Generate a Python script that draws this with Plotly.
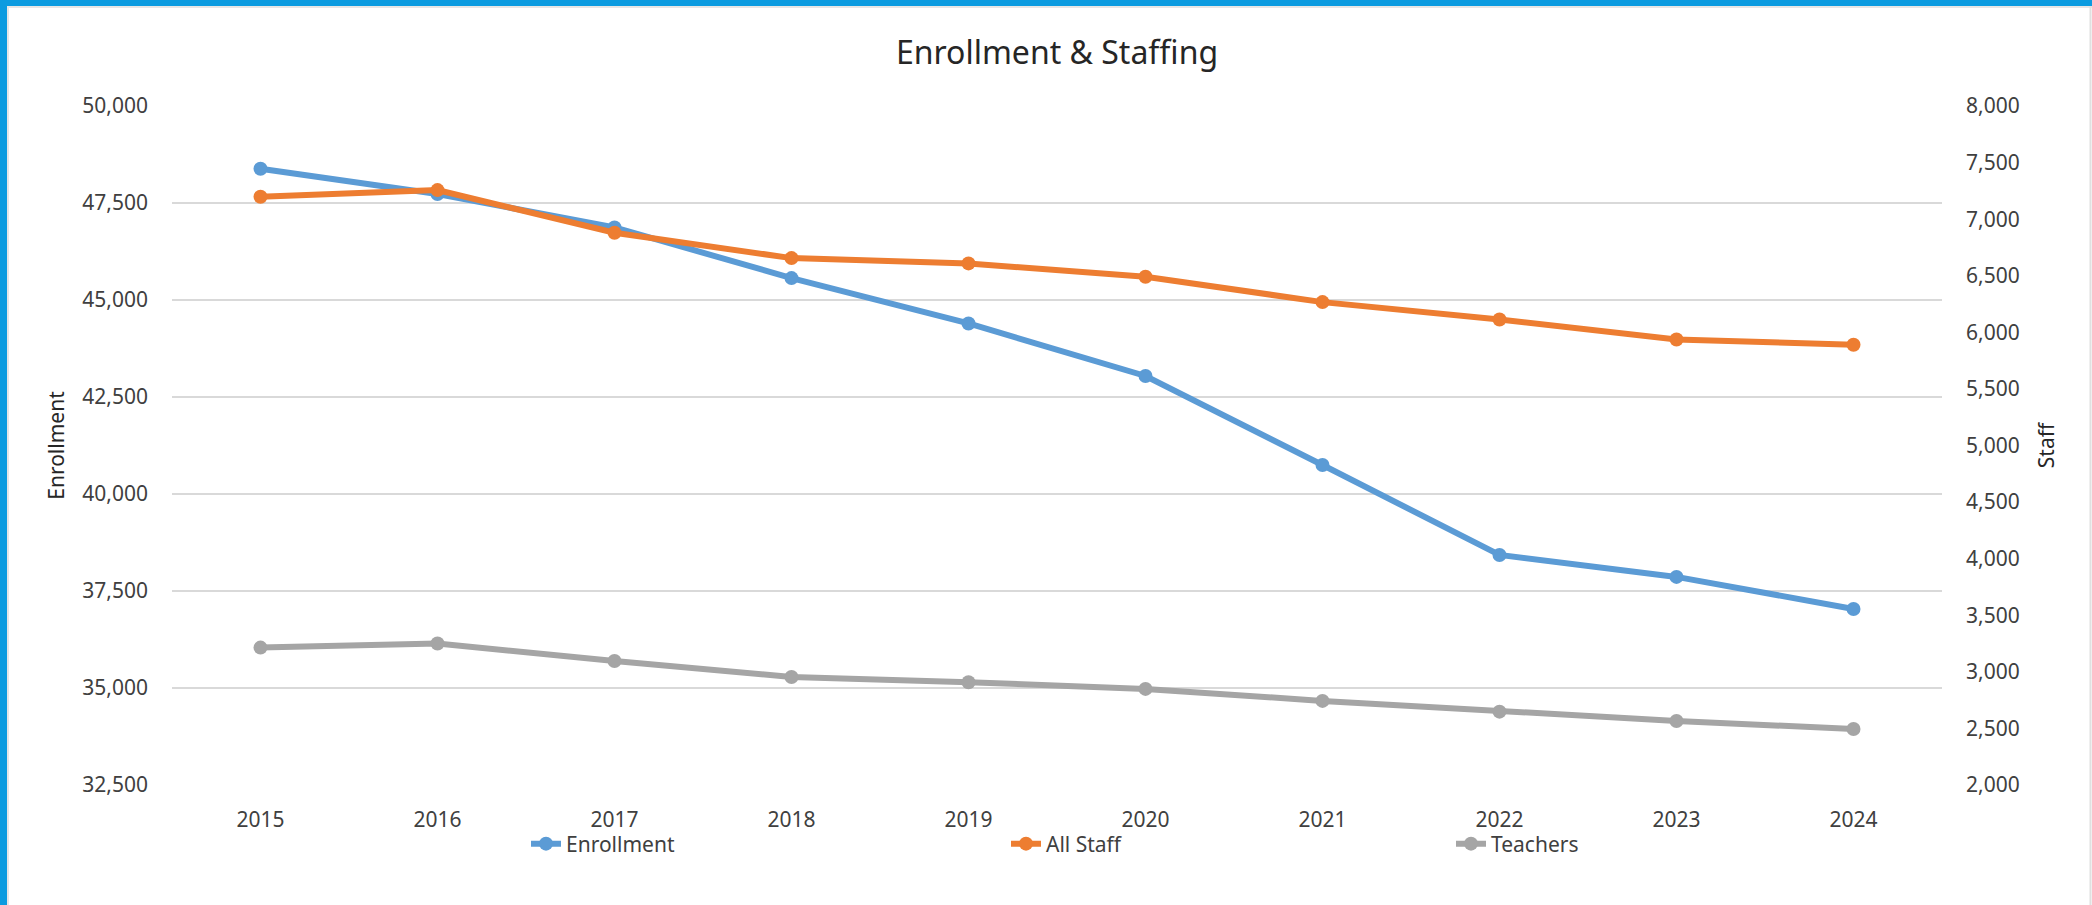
import plotly.graph_objects as go

years = ["2015", "2016", "2017", "2018", "2019", "2020", "2021", "2022", "2023", "2024"]
enrollment = [48384, 47731, 46871, 45565, 44396, 43042, 40748, 38429, 37863, 37038]
all_staff = [7198, 7257, 6880, 6656, 6609, 6491, 6267, 6114, 5937, 5890]
teachers = [3214, 3250, 3096, 2955, 2908, 2849, 2743, 2648, 2566, 2495]

W, H = 2092, 905
L, R, T, B = 172, 150, 106, 120
PW, PH = W - L - R, H - T - B

def px_x(p):
    return (p - L) / PW

def px_y(p):
    return (H - B - p) / PH

font_family = "Noto Sans"
tick_color = "#404040"

fig = go.Figure()
fig.add_trace(go.Scatter(
    x=years, y=enrollment, name="Enrollment", mode="lines+markers",
    line=dict(color="#5B9BD5", width=6), marker=dict(size=14, color="#5B9BD5"),
    yaxis="y", legend="legend", showlegend=True))
fig.add_trace(go.Scatter(
    x=years, y=all_staff, name="All Staff", mode="lines+markers",
    line=dict(color="#ED7D31", width=6), marker=dict(size=14, color="#ED7D31"),
    yaxis="y2", legend="legend2", showlegend=True))
fig.add_trace(go.Scatter(
    x=years, y=teachers, name="Teachers", mode="lines+markers",
    line=dict(color="#A5A5A5", width=6), marker=dict(size=14, color="#A5A5A5"),
    yaxis="y2", legend="legend3", showlegend=True))

leg_common = dict(orientation="h", xanchor="left", yanchor="middle",
                  font=dict(family=font_family, size=21, color=tick_color),
                  bgcolor="rgba(0,0,0,0)")

fig.update_layout(
    width=W, height=H, showlegend=True,
    margin=dict(l=L, r=R, t=T, b=B, autoexpand=False),
    paper_bgcolor="white", plot_bgcolor="white",
    font=dict(family=font_family, color=tick_color),
    title=dict(text="Enrollment & Staffing", x=0.5, xref="paper", xanchor="center",
               y=1 - 53 / H, yref="container", yanchor="middle",
               font=dict(family=font_family, size=32, color="#262626")),
    xaxis=dict(type="category", range=[-0.5, 9.5], showgrid=False, showline=False,
               zeroline=False, ticks="", ticklabelstandoff=20,
               tickfont=dict(size=21, color=tick_color)),
    yaxis=dict(range=[32500, 50000], dtick=2500, tick0=32500, tickformat=",",
               showgrid=True, gridcolor="#D9D9D9", gridwidth=2, zeroline=False,
               showline=False, ticks="", ticklabelstandoff=23,
               tickfont=dict(size=21, color=tick_color),
               title=dict(text="Enrollment", standoff=11,
                          font=dict(size=21, color="#262626"))),
    yaxis2=dict(range=[2000, 8000], dtick=500, tick0=2000, tickformat=",",
                overlaying="y", side="right", showgrid=False, zeroline=False,
                showline=False, ticks="", ticklabelstandoff=23,
                tickfont=dict(size=21, color=tick_color),
                title=dict(text="Staff", standoff=20,
                           font=dict(size=21, color="#262626"))),
    legend=dict(x=px_x(526), y=px_y(844), **leg_common),
    legend2=dict(x=px_x(1006), y=px_y(844), **leg_common),
    legend3=dict(x=px_x(1451), y=px_y(844), **leg_common),
    shapes=[
        dict(type="rect", xref="paper", yref="paper",
             x0=px_x(0), x1=px_x(W), y0=px_y(0), y1=px_y(6),
             fillcolor="#0B9BE0", line=dict(width=0), layer="above"),
        dict(type="rect", xref="paper", yref="paper",
             x0=px_x(0), x1=px_x(7), y0=px_y(0), y1=px_y(H),
             fillcolor="#0B9BE0", line=dict(width=0), layer="above"),
        dict(type="line", xref="paper", yref="paper",
             x0=px_x(8), x1=px_x(8), y0=px_y(6), y1=px_y(H),
             line=dict(color="#E6E6E6", width=2), layer="above"),
        dict(type="line", xref="paper", yref="paper",
             x0=px_x(7), x1=px_x(W), y0=px_y(7), y1=px_y(7),
             line=dict(color="#E6E6E6", width=2), layer="above"),
        dict(type="line", xref="paper", yref="paper",
             x0=px_x(2090.5), x1=px_x(2090.5), y0=px_y(6), y1=px_y(H),
             line=dict(color="#E0E0E0", width=2), layer="above"),
    ],
)

fig.write_html("out.html", config={"displayModeBar": False},
               post_script="document.body.style.margin='0';document.body.style.overflow='hidden';")
